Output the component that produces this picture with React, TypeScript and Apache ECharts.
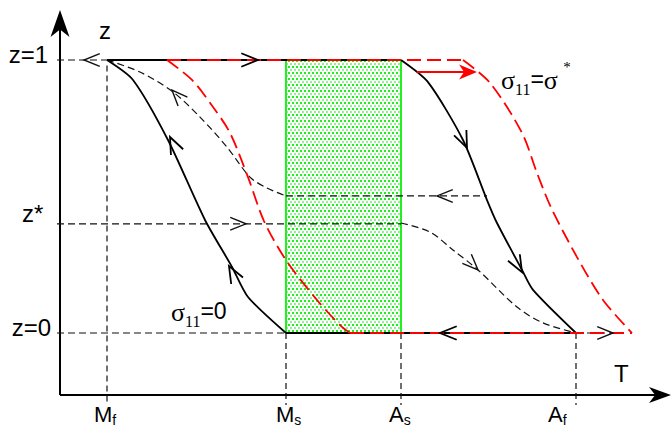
import React, { useEffect, useRef } from "react";
import * as echarts from "echarts";

// Axis ranges (T in drawing units, z = martensite fraction)
const T_MIN = 0;
const T_MAX = 671;
const Z_MIN = -0.3443;
const Z_MAX = 1.2198;
const AXIS_Z = -0.227; // level of the T axis
const AXIS_T = 60; // position of the z axis
const GUIDE_START_T = 57;
const TICK_END_Z = -0.264;

// Transformation temperatures
const tempNames = ["M", "M", "A", "A"];
const tempSubs = ["f", "s", "s", "f"];
const tempValues = [107, 286, 401, 576];

// z levels
const levelNames = ["z=1", "z*", "z=0"];
const levelValues = [1, 0.4, 0];
const zMid = 0.502;

// Load-free (σ11 = 0) loop
const loadFreeCooling: number[][] = [[286, 0], [248, 0.132], [232, 0.242], [205, 0.414], [168, 0.707], [133, 0.927], [107, 1]];
const loadFreeHeating: number[][] = [[401, 1], [428, 0.919], [463, 0.707], [487, 0.487], [497, 0.403], [522, 0.231], [533, 0.158], [576, 0]];
const loadFreeTop: number[][] = [[107, 1], [401, 1]];
const loadFreeBottom: number[][] = [[286, 0], [576, 0]];

// Stressed (σ11 = σ*) loop
const stressedCooling: number[][] = [[350, 0], [340, 0.029], [317, 0.121], [286, 0.267], [264, 0.41], [248, 0.571], [230, 0.733], [213, 0.828], [192, 0.927], [167, 1]];
const stressedTop: number[][] = [[167, 1], [463, 1]];
const stressedHeating: number[][] = [[463, 1], [490, 0.916], [522, 0.733], [537, 0.586], [551, 0.46], [577, 0.278], [603, 0.121], [632, 0]];
const stressedBottom: number[][] = [[350, 0], [632, 0]];

// Partial (inner) paths
const partialCooling: number[][] = [[107, 1], [140, 0.956], [173, 0.883], [200, 0.791], [227, 0.681], [250, 0.571], [267, 0.531], [286, 0.502]];
const partialCoolingFlat: number[][] = [[286, zMid], [487, zMid]];
const partialHeatingFlat: number[][] = [[GUIDE_START_T, 0.4], [401, 0.4]];
const partialHeating: number[][] = [[401, 0.403], [430, 0.37], [453, 0.304], [478, 0.231], [517, 0.095], [543, 0.037], [576, 0]];
const topGuide: number[][] = [[GUIDE_START_T, 1], [107, 1]];
const bottomGuide: number[][] = [[GUIDE_START_T, 0], [286, 0]];
const rightGuide: number[][] = [[576, 0], [615, 0]];

// Open chevron arrows: [T, z, screen angle (deg), thick]
const chevrons: number[][] = [
  [84, 1, 180, 0],
  [258, 1, 0, 1],
  [170, 0.718, -115, 1],
  [229, 0.245, -119, 1],
  [172, 0.89, -133, 0],
  [246, 0.4, 0, 0],
  [437, 0.502, 180, 0],
  [467, 0.678, 66, 1],
  [522, 0.223, 61, 1],
  [478, 0.231, 45, 0],
  [440, 0, 180, 1],
  [613, 0, 0, 0],
];

// Filled arrow heads: [T, z, angle, length, halfWidth, red]
const darts: number[][] = [
  [AXIS_T, 1.183, -90, 27, 9.5, 0],
  [671, AXIS_Z, 0, 22, 8, 0],
  [477, 0.956, 0, 18, 7.5, 1],
];
const redShift: number[][] = [[417, 0.956], [466, 0.956]];
const zAxisLine: number[][] = [[AXIS_T, AXIS_Z], [AXIS_T, 1.16]];
const tAxisLine: number[][] = [[AXIS_T, AXIS_Z], [655, AXIS_Z]];

const THIN = "#111";

function lineSeries(data: number[][], color: string, width: number, type: any, smooth: number | boolean = false, z = 3) {
  return {
    type: "line",
    data,
    showSymbol: false,
    symbol: "none",
    smooth,
    silent: true,
    z,
    lineStyle: { color, width, type, cap: "butt" },
  };
}

export default function App() {
  const ref = useRef<HTMLDivElement>(null);
  useEffect(() => {
    if (!ref.current) return;
    const chart = echarts.init(ref.current, undefined, { renderer: "svg" });

    const c = document.createElement("canvas");
    c.width = 8;
    c.height = 6;
    const ctx = c.getContext("2d")!;
    ctx.fillStyle = "#ffffff";
    ctx.fillRect(0, 0, 8, 6);
    ctx.fillStyle = "#1ef01e";
    ctx.fillRect(0, 0, 2, 2);
    ctx.fillRect(4, 0, 2, 2);
    ctx.fillStyle = "#8af58a";
    ctx.fillRect(2, 3, 2, 2);
    ctx.fillRect(6, 3, 2, 2);
    const pattern: any = { image: c, repeat: "repeat", imageWidth: 8, imageHeight: 6 };

    const dash = [7, 4];
    const redDash = [14, 6];

    const series: any[] = [
      {
        type: "custom",
        coordinateSystem: "cartesian2d",
        silent: true,
        z: 1,
        data: [[tempValues[1], tempValues[2]]],
        renderItem: (_p: any, api: any) => {
          const a = api.coord([api.value(0), levelValues[0]]);
          const b = api.coord([api.value(1), levelValues[2]]);
          return {
            type: "group",
            children: [
              { type: "rect", shape: { x: a[0], y: a[1], width: b[0] - a[0], height: b[1] - a[1] }, style: { fill: pattern } },
              { type: "line", shape: { x1: a[0], y1: a[1], x2: a[0], y2: b[1] }, style: { stroke: "#22ee22", lineWidth: 2 } },
              { type: "line", shape: { x1: b[0], y1: a[1], x2: b[0], y2: b[1] }, style: { stroke: "#22ee22", lineWidth: 2 } },
            ],
          };
        },
      },
      // axes
      lineSeries(zAxisLine, "#000", 2, "solid"),
      lineSeries(tAxisLine, "#000", 2, "solid"),
      // guides
      lineSeries(topGuide, THIN, 1.2, dash),
      lineSeries(bottomGuide, THIN, 1.2, dash),
      lineSeries(rightGuide, THIN, 1.2, dash),
      ...tempValues.map((t, i) =>
        lineSeries(i === 0 ? [[t, 0.98], [t, TICK_END_Z]] : [[t, 0], [t, TICK_END_Z]], THIN, 1.2, [6, 4])
      ),
      // partial paths
      lineSeries(partialCooling, THIN, 1.2, dash, 0.3),
      lineSeries(partialCoolingFlat, THIN, 1.2, dash),
      lineSeries(partialHeatingFlat, THIN, 1.2, dash),
      lineSeries(partialHeating, THIN, 1.2, dash, 0.3),
      // load-free loop
      lineSeries(loadFreeCooling, "#000", 1.8, "solid", 0.25),
      lineSeries(loadFreeHeating, "#000", 1.8, "solid", 0.25),
      lineSeries(loadFreeTop, "#000", 1.8, "solid"),
      lineSeries(loadFreeBottom, "#000", 1.8, "solid"),
      // stressed loop
      lineSeries(stressedCooling, "#ff0000", 1.8, redDash, 0.3, 4),
      lineSeries(stressedTop, "#ff0000", 1.8, redDash, false, 4),
      lineSeries(stressedHeating, "#ff0000", 1.8, redDash, 0.3, 4),
      lineSeries(stressedBottom, "#ff0000", 1.8, redDash, false, 4),
      lineSeries(redShift, "#ff0000", 2, "solid", false, 4),
      {
        type: "custom",
        coordinateSystem: "cartesian2d",
        silent: true,
        z: 5,
        data: chevrons,
        renderItem: (_p: any, api: any) => {
          const p = api.coord([api.value(0), api.value(1)]);
          const a = (api.value(2) * Math.PI) / 180;
          const thick = api.value(3) === 1;
          const L = thick ? 18 : 17;
          const th = (22 * Math.PI) / 180;
          const p1 = [p[0] - L * Math.cos(a - th), p[1] - L * Math.sin(a - th)];
          const p2 = [p[0] - L * Math.cos(a + th), p[1] - L * Math.sin(a + th)];
          return {
            type: "polyline",
            shape: { points: [p1, p, p2] },
            style: { stroke: thick ? "#000" : "#111", lineWidth: thick ? 1.8 : 1.4, fill: null },
          };
        },
      },
      {
        type: "custom",
        coordinateSystem: "cartesian2d",
        silent: true,
        clip: false,
        z: 6,
        data: darts,
        renderItem: (_p: any, api: any) => {
          const p = api.coord([api.value(0), api.value(1)]);
          const a = (api.value(2) * Math.PI) / 180;
          const L = api.value(3);
          const hw = api.value(4);
          const ux = Math.cos(a), uy = Math.sin(a);
          const nx = -uy, ny = ux;
          const bx = p[0] - L * ux, by = p[1] - L * uy;
          const pts = [
            p,
            [bx + hw * nx, by + hw * ny],
            [p[0] - 0.72 * L * ux, p[1] - 0.72 * L * uy],
            [bx - hw * nx, by - hw * ny],
          ];
          return {
            type: "polygon",
            shape: { points: pts },
            style: { fill: api.value(5) === 1 ? "#ff0000" : "#000" },
          };
        },
      },
    ];

    const sans = "Liberation Sans";
    const serif = "Liberation Serif";
    const toPx = (t: number, z: number) => chart.convertToPixel({ gridIndex: 0 }, [t, z]) as number[];

    const option: any = {
      animation: false,
      grid: { left: 0, right: 0, top: 0, bottom: 0 },
      xAxis: { type: "value", min: T_MIN, max: T_MAX, show: false },
      yAxis: { type: "value", min: Z_MIN, max: Z_MAX, show: false },
      series,
    };
    chart.setOption(option);

    const graphics: any[] = [];
    // z level labels
    const levelOffsets = [[48, -6], [22, -10], [51, -6]];
    levelNames.forEach((name, i) => {
      const p = toPx(0, levelValues[i]);
      graphics.push({
        type: "text",
        x: levelOffsets[i][0],
        y: p[1] + levelOffsets[i][1],
        style: {
          text: name,
          font: `24px "${sans}"`,
          fill: "#000",
          textAlign: i === 1 ? "left" : "right",
          textVerticalAlign: "middle",
        },
      });
    });
    // axis titles
    graphics.push({ type: "text", x: 99, y: 30, style: { text: "z", font: `24px "${sans}"`, fill: "#000", textAlign: "left", textVerticalAlign: "middle" } });
    graphics.push({ type: "text", x: 614, y: 373, style: { text: "T", font: `24px "${sans}"`, fill: "#000", textAlign: "left", textVerticalAlign: "middle" } });
    // temperature labels
    const tempLeftOffsets = [-13, -10, -12, -28];
    tempValues.forEach((t, i) => {
      const p = toPx(t, AXIS_Z);
      graphics.push({
        type: "text",
        x: p[0] + tempLeftOffsets[i],
        y: 403,
        style: {
          text: `{m|${tempNames[i]}}{s|${tempSubs[i]}}`,
          textAlign: "left",
          textVerticalAlign: "top",
          rich: {
            m: { fontFamily: sans, fontSize: 22, lineHeight: 24, fill: "#000", verticalAlign: "top" },
            s: { fontFamily: sans, fontSize: 14, lineHeight: 12, fill: "#000", verticalAlign: "bottom" },
          },
        },
      });
    });
    // stress labels
    const sigmaRich = {
      g: { fontFamily: serif, fontSize: 26, lineHeight: 30, fill: "#000", verticalAlign: "top" },
      n: { fontFamily: serif, fontSize: 16, lineHeight: 16, fill: "#000", verticalAlign: "bottom" },
      e: { fontFamily: sans, fontSize: 23, lineHeight: 30, fill: "#000", verticalAlign: "top" },
    };
    graphics.push({
      type: "text",
      x: 171,
      y: 299,
      style: { text: "{g|σ}{n|11}{e|=0}", textAlign: "left", textVerticalAlign: "top", rich: sigmaRich },
    });
    graphics.push({
      type: "text",
      x: 501,
      y: 67,
      style: { text: "{g|σ}{n|11}{e|=}{g|σ}", textAlign: "left", textVerticalAlign: "top", rich: sigmaRich },
    });
    graphics.push({
      type: "text",
      x: 567,
      y: 67,
      style: { text: "*", font: `15px "${serif}"`, fill: "#000", textAlign: "center", textVerticalAlign: "middle" },
    });

    chart.setOption({ graphic: graphics });

    return () => chart.dispose();
  }, []);

  return <div ref={ref} style={{ position: "absolute", left: 0, top: 0, width: 671, height: 427, background: "#fff" }} />;
}
